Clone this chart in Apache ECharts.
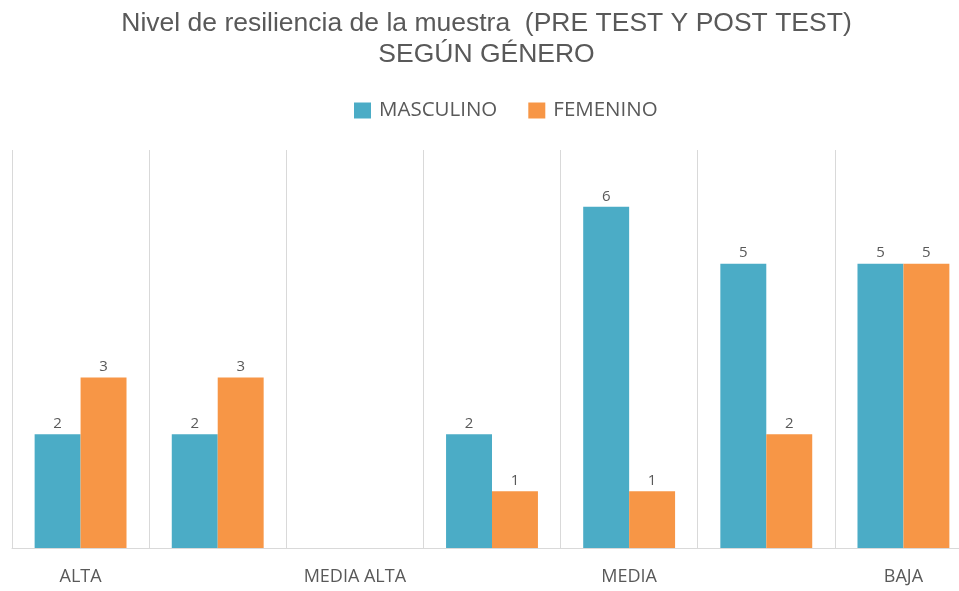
<!DOCTYPE html>
<html>
<head>
<meta charset="utf-8">
<script src="https://cdn.jsdelivr.net/npm/echarts@6/dist/echarts.min.js"></script>
<style>
  html, body { margin: 0; padding: 0; background: #fff; overflow: hidden; }
  /* el gráfico original queda recortado a la derecha */
  #chart { width: 973px; height: 591px; }
</style>
</head>
<body>
<div id="chart"></div>
<script>
// datos de la muestra
let categorias = ['ALTA', '', 'MEDIA ALTA', '', 'MEDIA', '', 'BAJA'];
let masculino = [2, 2, null, 2, 6, 5, 5];
let femenino = [3, 3, null, 1, 1, 2, 5];

let chart = echarts.init(document.getElementById('chart'));

let labelStyle = {
  show: true,
  position: 'top',
  distance: 3,
  color: '#595959',
  fontFamily: 'Open Sans',
  fontSize: 15
};

let option = {
  animation: false,
  color: ['#4BACC6', '#F79646'],
  title: {
    text: 'Nivel de resiliencia de la muestra  (PRE TEST Y POST TEST)\nSEGÚN GÉNERO',
    left: 'center',
    top: 8,
    padding: 0,
    textStyle: {
      fontFamily: 'Liberation Sans',
      fontSize: 26.5,
      fontWeight: 'normal',
      color: '#595959',
      lineHeight: 31
    }
  },
  legend: {
    data: ['MASCULINO', 'FEMENINO'],
    left: 354,
    top: 100,
    padding: 0,
    itemWidth: 17,
    itemHeight: 16,
    itemGap: 31,
    icon: 'rect',
    textStyle: {
      fontFamily: 'Open Sans',
      fontSize: 20.5,
      color: '#595959',
      padding: [0, 0, 0, 3]
    }
  },
  grid: {
    left: 12,
    top: 150,
    right: 1,
    bottom: 43,
    containLabel: false
  },
  xAxis: {
    type: 'category',
    data: categorias,
    axisLine: { lineStyle: { color: '#d9d9d9', width: 1 } },
    axisTick: { show: false },
    axisLabel: {
      interval: 0,
      margin: 20,
      color: '#595959',
      fontFamily: 'Open Sans',
      fontSize: 18
    },
    splitLine: {
      show: true,
      interval: 0,
      lineStyle: { color: '#d9d9d9', width: 1 }
    }
  },
  yAxis: {
    type: 'value',
    min: 0,
    max: 7,
    show: false
  },
  series: [{
    name: 'MASCULINO',
    type: 'bar',
    barGap: '0%',
    barCategoryGap: '33%',
    label: labelStyle,
    data: masculino
  }, {
    name: 'FEMENINO',
    type: 'bar',
    label: labelStyle,
    data: femenino
  }]
};

chart.setOption(option);
</script>
</body>
</html>
